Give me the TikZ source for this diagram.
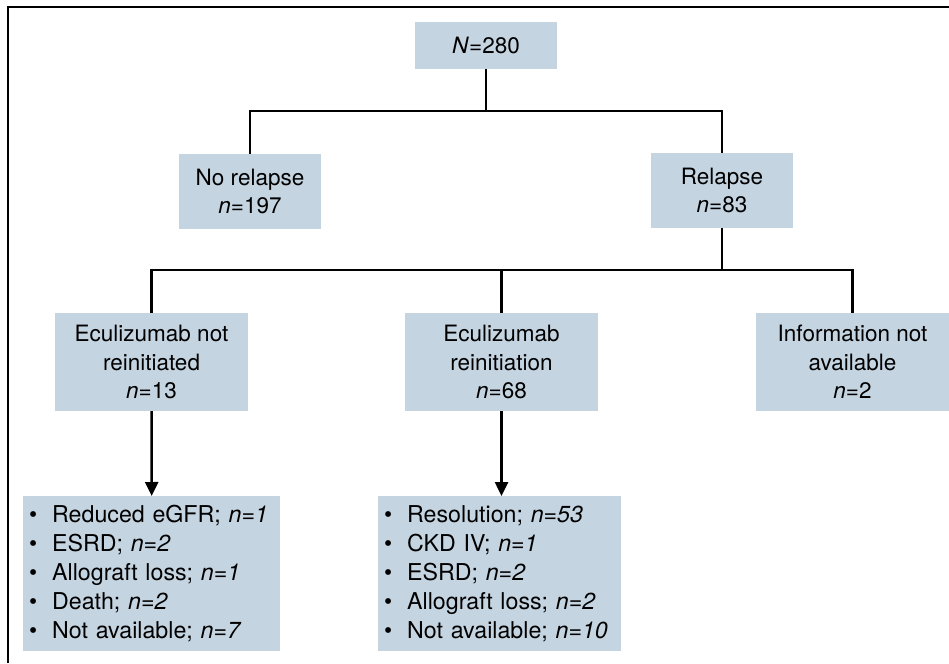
\documentclass[tikz,border=0pt]{standalone}
\usepackage{fontspec}
\setmainfont{TeX Gyre Heros}
\usetikzlibrary{arrows.meta}
\definecolor{boxfill}{RGB}{197,212,225}
\tikzset{%
  flowbox/.style   = {shape=rectangle, fill=boxfill, align=center, inner sep=0pt,%
                      font=\fontsize{22.5}{28.5}\selectfont},%
  listbox/.style   = {flowbox, align=left, inner xsep=6pt, anchor=north west,%
                      font=\fontsize{23.2}{29}\selectfont},%
  link/.style      = {line width=2.5pt, line join=miter},%
  arrowlink/.style = {link, -{Triangle[length=14pt,width=13pt]}}%
}
\newcommand{\litem}[1]{\makebox[23pt][l]{\textbullet}#1}

\begin{document}
\begin{tikzpicture}[x=1pt,y=-1pt]
		\useasboundingbox (0,0) rectangle (949,663);
		\draw[line width=2pt] (8,663) -- (8,7) -- (949,7);
		\node[flowbox, minimum width=142pt, minimum height=47pt] (root) at (486,45.5) {\textit{N}=280};
		\node[flowbox, minimum width=142pt, minimum height=75pt] (norel) at (250,191.5) {No relapse\\\textit{n}=197};
		\node[flowbox, minimum width=142pt, minimum height=75pt] (relapse) at (722,190.5) {Relapse\\\textit{n}=83};
		\node[flowbox, minimum width=193pt, minimum height=98pt] (notre) at (151.5,362) {Eculizumab not\\reinitiated\\\textit{n}=13};
		\node[flowbox, minimum width=193pt, minimum height=98pt] (reinit) at (501.5,362) {Eculizumab\\reinitiation\\\textit{n}=68};
		\node[flowbox, minimum width=193pt, minimum height=98pt] (noinfo) at (852.5,362) {Information not\\available\\\textit{n}=2};
		\node[listbox, text width=245pt, minimum height=155pt] (outnot) at (23,496) {%
			\litem{Reduced eGFR; \textit{n=1}}\\
			\litem{ESRD; \textit{n=2}}\\
			\litem{Allograft loss; \textit{n=1}}\\
			\litem{Death; \textit{n=2}}\\
			\litem{Not available; \textit{n=7}}};
		\node[listbox, text width=231pt, minimum height=155pt] (outre) at (378,496) {%
			\litem{Resolution; \textit{n=53}}\\
			\litem{CKD IV; \textit{n=1}}\\
			\litem{ESRD; \textit{n=2}}\\
			\litem{Allograft loss; \textit{n=2}}\\
			\litem{Not available; \textit{n=10}}};
		\coordinate (split1) at (486,111);
		\coordinate (split2) at (722,270);
		\draw[link] (root) -- (split1);
		\draw[link] (norel.north) |- (split1) -| (relapse.north);
		\draw[link] (relapse) -- (split2);
		\draw[link] (notre.north) |- (split2) -| (noinfo.north);
		\draw[link] (reinit.north) -- (reinit.north |- split2);
		\draw[arrowlink] (notre.south) -- (outnot.north);
		\draw[arrowlink] (reinit.south) -- (reinit.south |- outre.north);
\end{tikzpicture}
\end{document}
